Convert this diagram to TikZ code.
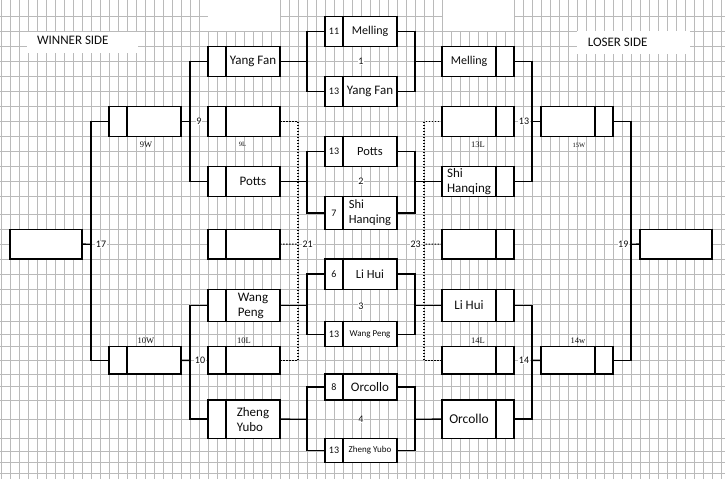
\documentclass[tikz,border=0pt]{standalone}
\usepackage{fontspec}
\setmainfont{Carlito}
\newfontfamily\tagfont{Liberation Serif}
\usetikzlibrary{positioning}

\begin{document}
\begin{tikzpicture}[x=1pt,y=-1pt,
  cell/.style={draw,line width=1.35pt,fill=white,inner sep=0pt,outer sep=0pt,minimum height=30pt,text=black!95,align=left,font=\fontsize{13}{15}\selectfont},
  pts/.style={cell,minimum width=18pt,font=\fontsize{10}{11}\selectfont},
  who/.style={cell,minimum width=54pt},
  tiny/.style={font=\fontsize{9}{10}\selectfont},
  link/.style={line width=1.35pt},
  dots/.style={line width=1.1pt,dash pattern=on 1.5pt off 1.5pt},
  num/.style={fill=white,inner sep=0.5pt,text=black!95,font=\fontsize{10}{11}\selectfont},
  tag/.style={inner sep=0pt,text=black!95,font=\tagfont\fontsize{8.5}{10}\selectfont},
  gridline/.style={black!27,line width=0.9pt}]

\useasboundingbox (0,0) rectangle (725,479);
\fill[white] (0,0) rectangle (725,479);
% sheet grid
\foreach \k in {0,...,80} \draw[gridline] (1+9*\k,0) -- (1+9*\k,479);
\foreach \r in {16.7,31.7,46.7,61.7,76.7,91.7,106.7,121.7,136.7,151.7,166.7,181.7,196.7,214,229.3,244.3,259,274,289.3,304.3,321.7,334.3,346.7,360.7,374,386.7,400,419.3,438.3,451,462.3,473.3}
  \draw[gridline] (0,\r) -- (725,\r);
\fill[white] (207.5,0) rectangle (279.5,31.2);
\fill[white] (442.5,0) rectangle (513.5,31.2);
\fill[white] (27,32) rectangle (138,53);
\fill[white] (577,31) rectangle (690,54);

\node[text=black!95,font=\fontsize{13}{15}\selectfont] (winside) at (72.8,40.7) {WINNER SIDE};
\node[text=black!95,font=\fontsize{13}{15}\selectfont] (loseside) at (617.7,42.7) {LOSER SIDE};

% first round, winner side
\node[pts,anchor=north west] (wyf-s) at (208,46.7) {};
\node[who,right=0pt of wyf-s] (wyf) {Yang Fan};
\node[pts,anchor=north west] (w9l-s) at (208,106.7) {};
\node[who,right=0pt of w9l-s] (w9l) {};
\node[pts,anchor=north west] (wpo-s) at (208,166.7) {};
\node[who,right=0pt of wpo-s] (wpo) {Potts};
\node[pts,anchor=north west,minimum height=29.7pt] (w21-s) at (208,229.3) {};
\node[who,right=0pt of w21-s,minimum height=29.7pt] (w21) {};
\node[pts,anchor=north west,minimum height=32.4pt] (wwp-s) at (208,289.3) {};
\node[who,right=0pt of wwp-s,minimum height=32.4pt] (wwp) {Wang\\Peng};
\node[pts,anchor=north west,minimum height=27.3pt] (w10l-s) at (208,346.7) {};
\node[who,right=0pt of w10l-s,minimum height=27.3pt] (w10l) {};
\node[pts,anchor=north west,minimum height=38.3pt] (wzy-s) at (208,400) {};
\node[who,right=0pt of wzy-s,minimum height=38.3pt] (wzy) {Zheng\\Yubo};

% matches
\node[pts,anchor=north west] (m1a-s) at (325,16.7) {11};
\node[who,right=0pt of m1a-s,font=\fontsize{12}{14}\selectfont] (m1a) {Melling};
\node[pts,anchor=north west] (m1b-s) at (325,76.7) {13};
\node[who,right=0pt of m1b-s] (m1b) {Yang Fan};
\node[pts,anchor=north west] (m2a-s) at (325,136.7) {13};
\node[who,right=0pt of m2a-s,font=\fontsize{12.5}{14}\selectfont] (m2a) {Potts};
\node[pts,anchor=north west,minimum height=32.6pt] (m2b-s) at (325,196.7) {7};
\node[who,right=0pt of m2b-s,minimum height=32.6pt,font=\fontsize{12.5}{15}\selectfont] (m2b) {Shi\\Hanqing};
\node[pts,anchor=north west,minimum height=30.3pt] (m3a-s) at (325,259) {6};
\node[who,right=0pt of m3a-s,minimum height=30.3pt,font=\fontsize{12.5}{14}\selectfont] (m3a) {Li Hui};
\node[pts,anchor=north west,minimum height=25pt] (m3b-s) at (325,321.7) {13};
\node[who,right=0pt of m3b-s,minimum height=25pt,tiny] (m3b) {Wang Peng};
\node[pts,anchor=north west,minimum height=26pt] (m4a-s) at (325,374) {8};
\node[who,right=0pt of m4a-s,minimum height=26pt] (m4a) {Orcollo};
\node[pts,anchor=north west,minimum height=24pt] (m4b-s) at (325,438.3) {13};
\node[who,right=0pt of m4b-s,minimum height=24pt,tiny] (m4b) {Zheng Yubo};

% first round, loser side
\node[who,anchor=north west,font=\fontsize{12}{14}\selectfont] (rme) at (442,46.7) {Melling};
\node[pts,right=0pt of rme] (rme-s) {};
\node[who,anchor=north west] (r13l) at (442,106.7) {};
\node[pts,right=0pt of r13l] (r13l-s) {};
\node[who,anchor=north west] (rshi) at (442,166.7) {Shi\\Hanqing};
\node[pts,right=0pt of rshi] (rshi-s) {};
\node[who,anchor=north west,minimum height=29.7pt] (r23) at (442,229.3) {};
\node[pts,right=0pt of r23,minimum height=29.7pt] (r23-s) {};
\node[who,anchor=north west,minimum height=32.4pt] (rlh) at (442,289.3) {Li Hui};
\node[pts,right=0pt of rlh,minimum height=32.4pt] (rlh-s) {};
\node[who,anchor=north west,minimum height=27.3pt] (r14l) at (442,346.7) {};
\node[pts,right=0pt of r14l,minimum height=27.3pt] (r14l-s) {};
\node[who,anchor=north west,minimum height=38.3pt,font=\fontsize{13.5}{15}\selectfont] (ror) at (442,400) {Orcollo};
\node[pts,right=0pt of ror,minimum height=38.3pt] (ror-s) {};

% later rounds
\node[pts,anchor=north west] (w9w-s) at (109,106.7) {};
\node[who,right=0pt of w9w-s] (w9w) {};
\node[pts,anchor=north west,minimum height=27.3pt] (w10w-s) at (109,346.7) {};
\node[who,right=0pt of w10w-s,minimum height=27.3pt] (w10w) {};
\node[who,anchor=north west] (r13w) at (541,106.7) {};
\node[pts,right=0pt of r13w] (r13w-s) {};
\node[who,anchor=north west,minimum height=27.3pt] (r14w) at (541,346.7) {};
\node[pts,right=0pt of r14w,minimum height=27.3pt] (r14w-s) {};
\node[cell,anchor=north west,minimum width=72pt,minimum height=29.7pt] (f17) at (10,229.3) {};
\node[cell,anchor=north west,minimum width=72pt,minimum height=29.7pt] (f19) at (640,229.3) {};

\coordinate (j1l) at (307,61.7);  \coordinate (j1r) at (415,61.7);
\coordinate (j2l) at (307,181.7); \coordinate (j2r) at (415,181.7);
\coordinate (j3l) at (307,305.5); \coordinate (j3r) at (415,305.5);
\coordinate (j4l) at (307,419.2); \coordinate (j4r) at (415,419.2);
\coordinate (j9) at (190,121.7);  \coordinate (j10) at (190,360.4);
\coordinate (j13) at (532,121.7); \coordinate (j14) at (532,360.4);
\coordinate (j17) at (91,244.2);  \coordinate (j19) at (631,244.2);
\coordinate (d21) at (298,244.2); \coordinate (d23) at (424,244.2);

\draw[link] (m1a-s.west) -| (j1l) |- (m1b-s.west);
\draw[link] (wyf.east) -- (j1l);
\draw[link] (m1a.east) -| (j1r) |- (m1b.east);
\draw[link] (j1r) -- (rme.west);
\draw[link] (m2a-s.west) -| (j2l) |- (m2b-s.west);
\draw[link] (wpo.east) -- (j2l);
\draw[link] (m2a.east) -| (j2r) |- (m2b.east);
\draw[link] (j2r) -- (rshi.west);
\draw[link] (m3a-s.west) -| (j3l) |- (m3b-s.west);
\draw[link] (wwp.east) -- (j3l);
\draw[link] (m3a.east) -| (j3r) |- (m3b.east);
\draw[link] (j3r) -- (rlh.west);
\draw[link] (m4a-s.west) -| (j4l) |- (m4b-s.west);
\draw[link] (wzy.east) -- (j4l);
\draw[link] (m4a.east) -| (j4r) |- (m4b.east);
\draw[link] (j4r) -- (ror.west);

\draw[link] (wyf-s.west) -| (j9) |- (wpo-s.west);
\draw[link] (w9w.east) -- (j9);
\draw[link] (wwp-s.west) -| (j10) |- (wzy-s.west);
\draw[link] (w10w.east) -- (j10);
\draw[link] (w9w-s.west) -| (j17) |- (w10w-s.west);
\draw[link] (f17.east) -- (j17);
\draw[link] (rme-s.east) -| (j13) |- (rshi-s.east);
\draw[link] (j13) -- (r13w.west);
\draw[link] (rlh-s.east) -| (j14) |- (ror-s.east);
\draw[link] (j14) -- (r14w.west);
\draw[link] (r13w-s.east) -| (j19) |- (r14w-s.east);
\draw[link] (j19) -- (f19.west);

\draw[dots] (w9l.east) -| (d21) |- (w10l.east);
\draw[dots] (w21.east) -- (d21);
\draw[dots] (r13l.west) -| (d23) |- (r14l.west);
\draw[dots] (r23.west) -- (d23);

\node[num] (n1) at (361,61.7) {1};
\node[num] (n2) at (361,181.7) {2};
\node[num] (n3) at (361,306.7) {3};
\node[num] (n4) at (361,419.3) {4};
\node[num] (n9) at (199,121.7) {9};
\node[num] (n10) at (200,360.7) {10};
\node[num] (n13) at (524,121.7) {13};
\node[num] (n14) at (524,360.7) {14};
\node[num] (n17) at (101,244.3) {17};
\node[num] (n19) at (623.3,244.3) {19};
\node[num] (n21) at (307.7,244.3) {21};
\node[num] (n23) at (415.7,244.3) {23};

\node[tag] (t9w) at (146,145) {9W};
\node[tag,font=\tagfont\fontsize{6.5}{8}\selectfont] (t9l) at (242.5,144.5) {9L};
\node[tag] (t13l) at (478,145) {13L};
\node[tag,font=\tagfont\fontsize{6.5}{8}\selectfont] (t15w) at (579,145) {15W};
\node[tag] (t10w) at (146,340.7) {10W};
\node[tag] (t10l) at (244,340.7) {10L};
\node[tag] (t14l) at (478,340.7) {14L};
\node[tag] (t14w) at (578,340.7) {14w};
\end{tikzpicture}
\end{document}
